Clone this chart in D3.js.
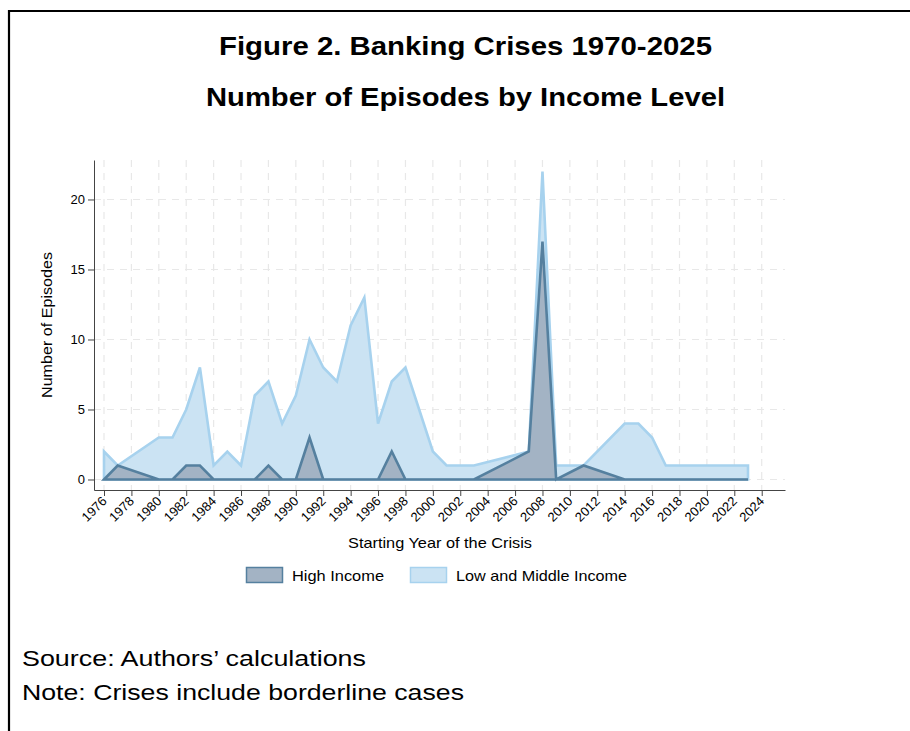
<!DOCTYPE html>
<html>
<head>
<meta charset="utf-8">
<script src="https://cdn.jsdelivr.net/npm/d3@7"></script>
<style>
  html, body { margin: 0; padding: 0; background: #fff; }
  svg { display: block; font-family: "Liberation Sans", Arial, sans-serif; }
</style>
</head>
<body>
<svg id="chart" width="910" height="731"></svg>
<script>
// Years in which episodes are recorded (gaps are bridged by the line)
const years = [1976, 1977, 1980, 1981, 1982, 1983, 1984, 1985, 1986, 1987, 1988, 1989,
  1990, 1991, 1992, 1993, 1994, 1995, 1996, 1997, 1998, 1999, 2000, 2001, 2002, 2003,
  2007, 2008, 2009, 2011, 2014, 2015, 2016, 2017, 2018, 2019, 2020, 2021, 2022, 2023];
const lowMiddleIncome = [2, 1, 3, 3, 5, 8, 1, 2, 1, 6, 7, 4,
  6, 10, 8, 7, 11, 13, 4, 7, 8, 5, 2, 1, 1, 1,
  2, 22, 1, 1, 4, 4, 3, 1, 1, 1, 1, 1, 1, 1];
const highIncome = [0, 1, 0, 0, 1, 1, 0, 0, 0, 0, 1, 0,
  0, 3, 0, 0, 0, 0, 0, 2, 0, 0, 0, 0, 0, 0,
  2, 17, 0, 1, 0, 0, 0, 0, 0, 0, 0, 0, 0, 0];
const xTicks = d3.range(1976, 2025, 2);
const yTicks = [0, 5, 10, 15, 20];
const seriesNames = ["High Income", "Low and Middle Income"];

const titleLines = ["Figure 2. Banking Crises 1970-2025", "Number of Episodes by Income Level"];
const notes = ["Source: Authors\u2019 calculations", "Note: Crises include borderline cases"];

const colors = {
  lowFill: "#cbe3f3", lowStroke: "#a7d2ee",
  highFill: "#a3b3c4", highStroke: "#55809f"
};

const svg = d3.select("#chart");

// Outer frame (top and left edges)
svg.append("path")
  .attr("d", "M9,731 V11 H910")
  .attr("fill", "none").attr("stroke", "#000").attr("stroke-width", 2.2);

// Titles (wide set, as in the printed figure)
const titleWidths = [493, 519];
svg.selectAll("text.title").data(titleLines).join("text")
  .attr("class", "title")
  .attr("x", 465.5).attr("y", (d, i) => 55 + i * 51)
  .attr("text-anchor", "middle")
  .attr("font-size", 25).attr("font-weight", "bold").attr("fill", "#000")
  .attr("textLength", (d, i) => titleWidths[i]).attr("lengthAdjust", "spacingAndGlyphs")
  .text(d => d);

// Plot region
const plotLeft = 94, plotRight = 785, plotTop = 160, plotBottom = 490;
const x = d3.scaleLinear().domain([1975.27, 2025.7]).range([plotLeft, plotRight]);
const y = d3.scaleLinear().domain([-0.75, 22.82]).range([plotBottom, plotTop]);

// Grid
const grid = svg.append("g").attr("stroke", "#e8e8e8").attr("stroke-width", 1.2)
  .attr("stroke-dasharray", "7,6");
grid.selectAll("line.v").data(xTicks).join("line").attr("class", "v")
  .attr("x1", d => x(d)).attr("x2", d => x(d)).attr("y1", plotTop).attr("y2", plotBottom);
grid.selectAll("line.h").data(yTicks).join("line").attr("class", "h")
  .attr("x1", plotLeft).attr("x2", plotRight).attr("y1", d => y(d)).attr("y2", d => y(d));

// Areas
const area = vals => d3.area()
  .x((d, i) => x(years[i]))
  .y0(y(0))
  .y1(d => y(d))(vals);

svg.append("path")
  .attr("d", area(lowMiddleIncome))
  .attr("fill", colors.lowFill).attr("stroke", colors.lowStroke)
  .attr("stroke-width", 2.6).attr("stroke-linejoin", "miter").attr("stroke-miterlimit", 4);

svg.append("path")
  .attr("d", area(highIncome))
  .attr("fill", colors.highFill).attr("stroke", colors.highStroke)
  .attr("stroke-width", 2.6).attr("stroke-linejoin", "miter").attr("stroke-miterlimit", 4);

// Axes
const axisColor = "#444";
const xAxis = svg.append("g").attr("transform", `translate(0,${plotBottom})`)
  .call(d3.axisBottom(x).tickValues(xTicks).tickFormat(d3.format("d")).tickSize(6).tickSizeOuter(0));
xAxis.select(".domain").attr("stroke", axisColor);
xAxis.selectAll(".tick line").attr("stroke", axisColor);
xAxis.selectAll(".tick text")
  .attr("font-size", 13).attr("fill", "#000")
  .attr("font-family", "'Liberation Sans', Arial, sans-serif")
  .attr("text-anchor", "end")
  .attr("dy", null).attr("y", 0)
  .attr("transform", "translate(3,12) rotate(-45)");

const yAxis = svg.append("g").attr("transform", `translate(${plotLeft},0)`)
  .call(d3.axisLeft(y).tickValues(yTicks).tickSize(6).tickSizeOuter(0));
yAxis.select(".domain").attr("stroke", axisColor);
yAxis.selectAll(".tick line").attr("stroke", axisColor);
yAxis.selectAll(".tick text")
  .attr("font-size", 13).attr("fill", "#000")
  .attr("font-family", "'Liberation Sans', Arial, sans-serif")
  .attr("x", -9);

// Axis titles
svg.append("text")
  .attr("transform", `translate(52,325) rotate(-90)`)
  .attr("text-anchor", "middle").attr("font-size", 14.5).attr("fill", "#000")
  .attr("textLength", 146).attr("lengthAdjust", "spacingAndGlyphs")
  .text("Number of Episodes");
svg.append("text")
  .attr("x", 440).attr("y", 548)
  .attr("text-anchor", "middle").attr("font-size", 14.5).attr("fill", "#000")
  .attr("textLength", 184).attr("lengthAdjust", "spacingAndGlyphs")
  .text("Starting Year of the Crisis");

// Legend
const legendItems = [
  { name: seriesNames[0], fill: colors.highFill, stroke: colors.highStroke, x: 246, w: 92 },
  { name: seriesNames[1], fill: colors.lowFill, stroke: colors.lowStroke, x: 410, w: 171 }
];
const lg = svg.selectAll("g.legend").data(legendItems).join("g").attr("class", "legend")
  .attr("transform", d => `translate(${d.x},567)`);
lg.append("rect").attr("x", 0.5).attr("y", 0.5).attr("width", 36).attr("height", 15)
  .attr("fill", d => d.fill).attr("stroke", d => d.stroke).attr("stroke-width", 1.5);
lg.append("text").attr("x", 46).attr("y", 13.5)
  .attr("font-size", 14.5).attr("fill", "#000")
  .attr("textLength", d => d.w).attr("lengthAdjust", "spacingAndGlyphs")
  .text(d => d.name);

// Notes
const noteWidths = [344, 442];
svg.selectAll("text.note").data(notes).join("text")
  .attr("class", "note")
  .attr("x", 22).attr("y", (d, i) => 666 + i * 34)
  .attr("font-size", 22.5).attr("fill", "#000")
  .attr("textLength", (d, i) => noteWidths[i]).attr("lengthAdjust", "spacingAndGlyphs")
  .text(d => d);
</script>
</body>
</html>
